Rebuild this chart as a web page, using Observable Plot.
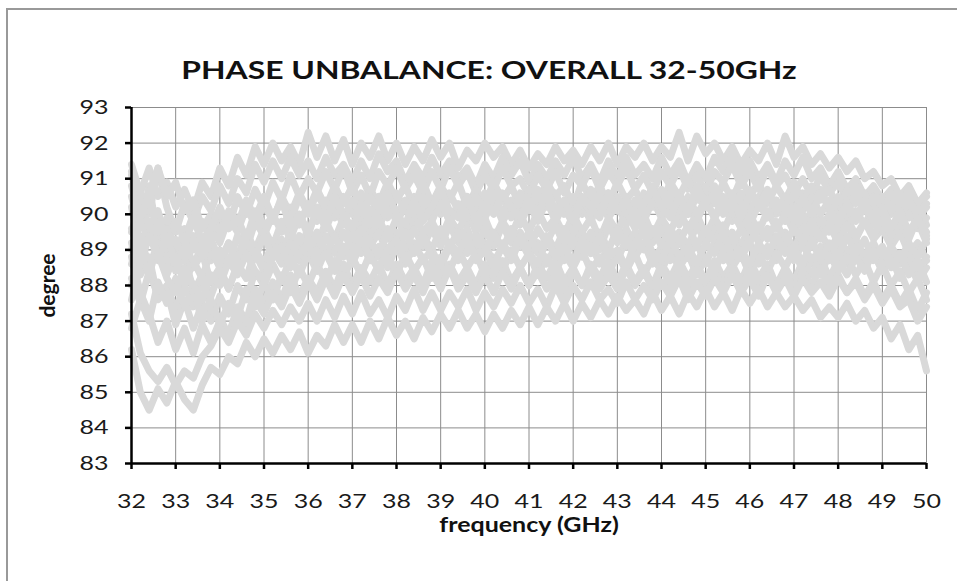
<!DOCTYPE html>
<html>
<head>
<meta charset="utf-8">
<script src="https://cdn.jsdelivr.net/npm/d3@7"></script>
<script src="https://cdn.jsdelivr.net/npm/@observablehq/plot@0.6"></script>
<style>
  html, body { margin: 0; padding: 0; background: #fff; }
  #wrap { position: relative; width: 957px; height: 581px; overflow: hidden; }
  #border { position: absolute; left: 6px; top: 8px; width: 1000px; height: 700px; border-left: 2px solid #999; border-top: 2px solid #999; }
  #chart { position: absolute; left: 0; top: 0; }
</style>
</head>
<body>
<div id="wrap"><div id="border"></div><div id="chart"></div></div>
<script>
const titleText = "PHASE UNBALANCE: OVERALL 32-50GHz";
const xLabel = "frequency (GHz)";
const yLabel = "degree";
const xTicks = [32,33,34,35,36,37,38,39,40,41,42,43,44,45,46,47,48,49,50];
const yTicks = [83,84,85,86,87,88,89,90,91,92,93];

const freq = [32,32.2,32.4,32.6,32.8,33,33.2,33.4,33.6,33.8,34,34.2,34.4,34.6,34.8,35,35.2,35.4,35.6,35.8,
36,36.2,36.4,36.6,36.8,37,37.2,37.4,37.6,37.8,38,38.2,38.4,38.6,38.8,39,39.2,39.4,39.6,39.8,
40,40.2,40.4,40.6,40.8,41,41.2,41.4,41.6,41.8,42,42.2,42.4,42.6,42.8,43,43.2,43.4,43.6,43.8,
44,44.2,44.4,44.6,44.8,45,45.2,45.4,45.6,45.8,46,46.2,46.4,46.6,46.8,47,47.2,47.4,47.6,47.8,
48,48.2,48.4,48.6,48.8,49,49.2,49.4,49.6,49.8,50];

const sA = [91.2,90.6,91.3,90.5,90.9, 90.2,90.7,90.1,90.9,90.5, 91.3,90.8,91.6,91.1,91.9, 91.4,92.0,91.5,91.9,91.4,
92.3,91.6,92.2,91.5,92.1, 91.4,92.0,91.6,92.2,91.5, 92.0,91.4,91.9,91.5,92.1, 91.6,92.0,91.3,91.8,91.5,
92.0,91.6,91.9,91.4,91.8, 91.3,91.7,91.4,91.9,91.5, 91.8,91.4,91.9,91.5,92.0, 91.4,91.9,91.6,92.0,91.5,
91.9,91.6,92.3,91.5,92.2, 91.7,92.0,91.5,91.9,91.4, 91.8,91.5,92.0,91.4,92.2, 91.6,91.9,91.4,91.7,91.3,
91.6,91.2,91.5,91.0,91.2, 90.8,91.0,90.5,90.8,90.3, 90.5];
const sB = [91.4,90.6,90.0,91.3,90.2, 89.5,90.3,89.8,90.5,90.1, 90.8,90.3,91.0,90.6,91.4, 90.9,91.5,91.0,91.6,91.1,
91.5,91.0,91.6,91.1,91.4, 90.9,91.5,91.0,91.7,91.2, 91.5,90.9,91.4,91.0,91.6, 91.1,91.5,91.0,91.3,90.8,
91.4,91.0,91.6,91.1,91.5, 90.9,91.4,91.0,91.5,91.1, 91.6,91.0,91.4,90.9,91.5, 91.0,91.6,91.1,91.4,91.0,
91.6,91.1,91.5,90.9,91.4, 91.0,91.6,91.2,91.7,91.1, 91.5,91.0,91.4,90.9,91.5, 91.1,91.6,91.0,91.3,90.8,
91.2,90.7,91.0,90.5,90.8, 90.4,90.7,90.2,90.5,89.9, 90.2];
const sC = [90.5,89.6,90.8,89.3,89.9, 88.8,89.6,89.0,89.8,89.3, 90.1,89.6,90.5,90.0,90.7, 90.2,90.9,90.4,91.1,90.5,
91.0,90.6,91.2,90.7,91.3, 90.6,91.1,90.5,91.2,90.8, 91.3,90.7,91.1,90.6,91.2, 90.7,91.3,90.8,91.2,90.6,
91.1,90.7,91.3,90.8,91.0, 90.5,91.1,90.7,91.2,90.6, 91.1,90.8,91.3,90.7,91.2, 90.8,91.3,90.7,91.1,90.6,
91.2,90.8,91.3,90.7,91.1, 90.6,91.2,90.9,91.4,90.8, 91.2,90.7,91.3,90.8,91.1, 90.6,91.0,90.5,91.1,90.6,
90.9,90.4,90.8,90.2,90.6, 90.0,90.4,89.8,90.2,89.6, 89.9];
const sD = [89.5,90.3,89.6,90.1,89.2, 89.8,89.3,90.0,89.2,89.7, 89.2,89.9,89.5,90.2,89.7, 90.3,89.8,90.5,90.0,90.6,
90.1,90.7,90.2,90.8,90.3, 90.8,90.2,90.7,90.3,90.9, 90.4,90.8,90.2,90.9,90.3, 90.8,90.4,90.9,90.2,90.7,
90.3,90.9,90.4,90.8,90.2, 90.7,90.3,90.9,90.5,90.8, 90.2,90.9,90.4,90.8,90.3, 90.9,90.4,90.7,90.2,90.8,
90.3,90.9,90.5,91.0,90.4, 90.8,90.3,90.9,90.4,91.0, 90.5,90.9,90.3,90.8,90.4, 90.9,90.3,90.8,90.4,90.7,
90.2,90.7,90.3,90.6,90.1, 90.5,90.0,90.4,89.9,90.3, 89.7];
const sE = [91.1,90.2,89.6,90.0,89.0, 88.6,89.3,88.5,89.2,88.7, 89.0,88.6,89.4,89.0,89.8, 89.4,90.0,89.5,90.2,89.7,
90.3,89.8,90.4,89.9,90.5, 90.0,90.6,90.0,90.5,89.9, 90.6,90.1,90.5,89.9,90.4, 90.0,90.6,90.1,90.5,90.0,
90.6,90.1,90.5,89.9,90.6, 90.1,90.7,90.2,90.6,90.0, 90.5,90.0,90.7,90.2,90.6, 90.1,90.5,89.9,90.6,90.2,
90.7,90.1,90.6,90.0,90.5, 90.2,90.8,90.3,90.6,90.1, 90.7,90.2,90.6,90.0,90.5, 90.1,90.6,90.2,90.7,90.1,
90.5,90.0,90.6,90.1,90.5, 90.0,90.6,90.2,90.7,90.3, 90.6];
const sF = [88.6,89.4,88.5,89.2,88.3, 88.9,88.0,88.7,88.2,89.0, 88.5,89.2,88.8,89.5,89.0, 89.6,89.1,89.8,89.3,90.0,
89.5,90.1,89.6,90.2,89.7, 90.3,89.7,90.1,89.6,90.3, 89.8,90.2,89.7,90.3,89.8, 90.4,89.8,90.2,89.7,90.3,
89.9,90.4,89.8,90.2,89.7, 90.3,89.8,90.4,89.9,90.2, 89.7,90.3,89.8,90.4,89.9, 90.3,89.7,90.2,89.8,90.4,
89.9,90.3,89.7,90.2,89.8, 90.4,89.9,90.3,89.8,90.2, 89.7,90.3,89.9,90.4,89.8, 90.2,89.7,90.1,89.6,90.0,
89.5,89.9,89.4,89.8,89.3, 89.6,89.1,89.5,88.9,89.2, 88.7];
const sG = [90.8,89.9,90.4,89.5,89.6, 88.9,89.4,88.5,88.9,88.1, 88.5,87.9,88.6,88.2,89.0, 88.6,89.2,88.8,89.5,89.0,
89.6,89.1,89.8,89.3,89.9, 89.4,90.0,89.4,89.9,89.3, 89.9,89.4,90.0,89.5,89.8, 89.3,89.9,89.5,90.1,89.5,
89.9,89.3,89.8,89.4,90.0, 89.5,90.1,89.6,89.9,89.4, 90.0,89.5,89.9,89.3,89.9, 89.5,90.1,89.6,90.0,89.4,
89.9,89.5,90.1,89.6,90.0, 89.4,89.9,89.5,90.1,89.6, 90.0,89.5,90.1,89.6,90.0, 89.5,90.0,89.4,89.9,89.5,
90.0,89.6,90.1,89.7,90.2, 89.8,90.3,89.9,90.4,90.0, 90.3];
const sH = [88.2,87.5,88.4,87.7,88.0, 87.3,88.0,87.4,88.2,87.7, 88.4,87.9,88.6,88.2,88.9, 88.4,89.0,88.6,89.2,88.7,
89.3,88.8,89.4,88.9,89.5, 89.0,89.6,89.1,89.5,88.9, 89.5,89.0,89.6,89.1,89.6, 89.1,89.7,89.2,89.6,89.0,
89.6,89.1,89.7,89.2,89.5, 89.0,89.6,89.2,89.7,89.1, 89.6,89.1,89.5,89.0,89.7, 89.2,89.6,89.1,89.7,89.2,
89.6,89.0,89.5,89.1,89.7, 89.2,89.6,89.0,89.5,89.1, 89.7,89.2,89.6,89.1,89.5, 89.0,89.6,89.1,89.5,89.0,
89.4,88.9,89.3,88.8,89.2, 88.7,89.1,88.6,89.0,88.4, 88.8];
const sI = [89.2,88.3,88.8,87.6,87.9, 86.9,87.6,86.8,87.5,87.0, 87.7,87.2,88.0,87.6,88.4, 88.0,88.6,88.1,88.8,88.3,
88.9,88.4,89.0,88.5,89.1, 88.6,89.2,88.7,89.1,88.5, 89.1,88.6,89.2,88.7,89.0, 88.5,89.1,88.7,89.3,88.8,
89.2,88.6,89.1,88.7,89.3, 88.8,89.2,88.6,89.1,88.7, 89.3,88.8,89.2,88.6,89.1, 88.7,89.3,88.8,89.2,88.6,
89.1,88.7,89.3,88.8,89.2, 88.6,89.2,88.7,89.3,88.8, 89.2,88.6,89.1,88.7,89.3, 88.7,89.2,88.6,89.1,88.7,
89.1,88.6,89.0,88.5,88.9, 88.4,88.8,88.2,88.7,88.1, 88.5];
const sJ = [86.8,87.6,87.0,88.1,87.5, 88.2,87.4,87.9,87.0,87.6, 86.9,87.5,87.1,87.9,87.4, 88.1,87.6,88.3,87.8,88.5,
88.0,88.6,88.1,88.7,88.2, 88.8,88.3,88.9,88.4,88.8, 88.3,88.9,88.4,88.8,88.2, 88.8,88.4,89.0,88.5,88.9,
88.3,88.8,88.4,89.0,88.5, 88.9,88.3,88.8,88.4,88.9, 88.5,89.0,88.4,88.8,88.3, 88.9,88.4,88.9,88.3,88.8,
88.4,89.0,88.5,88.9,88.3, 88.8,88.4,89.0,88.5,88.9, 88.3,88.9,88.4,88.9,88.5, 89.0,88.4,88.8,88.3,88.9,
88.4,88.8,88.3,88.7,88.1, 88.6,88.0,88.4,87.8,88.2, 87.6];
const sK = [90.2,89.1,89.8,88.9,89.3, 88.4,88.9,87.8,88.3,87.3, 87.1,86.6,87.4,87.0,87.9, 87.5,88.1,87.6,88.3,87.7,
88.2,87.8,88.4,87.9,88.6, 88.0,88.5,88.1,88.6,88.0, 88.6,88.1,88.5,88.0,88.7, 88.2,88.6,88.1,88.5,88.0,
88.6,88.2,88.7,88.1,88.5, 88.0,88.6,88.2,88.7,88.1, 88.5,88.0,88.6,88.2,88.7, 88.1,88.6,88.1,88.5,88.0,
88.6,88.2,88.7,88.2,88.6, 88.1,88.7,88.2,88.6,88.1, 88.7,88.2,88.6,88.0,88.5, 88.1,88.7,88.3,88.8,88.2,
88.7,88.3,88.8,88.4,89.0, 88.6,89.1,88.7,89.2,88.8, 89.3];
const sL = [88.8,87.8,87.2,86.4,87.0, 86.2,86.8,86.1,86.9,86.4, 87.0,86.6,87.3,86.9,87.6, 87.2,87.8,87.4,88.0,87.5,
88.1,87.6,88.2,87.7,88.3, 87.8,88.3,87.7,88.2,87.8, 88.4,87.9,88.3,87.8,88.4, 87.9,88.5,87.9,88.3,87.8,
88.3,87.8,88.4,87.9,88.5, 88.0,88.4,87.9,88.3,87.8, 88.4,88.0,88.5,87.9,88.3, 87.9,88.5,88.0,88.4,87.9,
88.5,88.0,88.4,87.9,88.5, 88.0,88.4,87.9,88.5,88.0, 88.4,87.9,88.5,88.0,88.4, 87.9,88.4,88.0,88.5,87.9,
88.3,87.8,88.2,87.7,88.1, 87.6,88.0,87.5,87.9,87.3, 87.8];
const sM = [87.2,86.1,85.6,85.3,85.7, 85.2,85.6,85.4,86.0,86.3, 86.8,86.4,87.0,86.6,87.2, 86.8,87.3,86.9,87.4,87.0,
87.5,87.0,87.6,87.1,87.7, 87.2,87.8,87.2,87.6,87.1, 87.7,87.3,87.9,87.3,87.8, 87.3,87.8,87.4,87.9,87.3,
87.8,87.4,87.9,87.5,88.0, 87.5,87.9,87.4,88.0,87.5, 88.0,87.6,88.1,87.6,87.9, 87.5,88.1,87.6,88.0,87.6,
88.1,87.7,88.2,87.6,88.1, 87.7,88.2,87.8,88.3,87.8, 88.2,87.7,88.3,87.8,88.2, 87.7,88.2,87.8,88.1,87.7,
88.2,87.8,88.1,87.6,88.0, 87.5,87.9,87.4,87.6,87.0, 87.4];
const sN = [86.2,85.0,84.5,85.1,84.7, 85.3,84.8,84.5,85.2,85.7, 85.5,86.0,85.8,86.4,86.0, 86.5,86.1,86.6,86.2,86.7,
86.1,86.6,86.3,86.9,86.4, 86.9,86.4,87.0,86.5,87.1, 86.6,87.0,86.5,87.1,86.7, 87.2,86.8,87.3,86.8,87.2,
86.7,87.2,86.8,87.3,86.9, 87.4,86.9,87.4,87.0,87.5, 87.0,87.5,87.1,87.6,87.2, 87.7,87.3,87.6,87.2,87.8,
87.3,87.7,87.2,87.8,87.4, 87.9,87.4,87.8,87.3,87.9, 87.5,87.9,87.4,87.8,87.4, 87.7,87.3,87.6,87.1,87.4,
87.1,87.5,87.0,87.3,86.8, 87.1,86.5,86.9,86.2,86.6, 85.6];
const sO = [89.0,89.9,90.6,91.3,90.5, 90.9,90.1,90.4,89.6,90.0, 89.5,90.1,89.7,90.4,89.9, 90.5,89.9,90.4,89.8,90.5,
90.0,90.6,90.1,90.5,89.9, 90.4,89.9,90.5,90.1,90.6, 90.0,90.4,89.9,90.5,90.0, 90.4,89.8,90.3,89.9,90.5,
90.1,90.6,90.0,90.4,89.9, 90.5,90.0,90.4,89.8,90.3, 89.9,90.5,90.0,90.6,90.1, 90.5,90.0,90.4,89.9,90.5,
90.0,90.6,90.1,90.5,90.0, 90.4,89.9,90.5,90.0,90.6, 90.1,90.5,89.9,90.4,90.0, 90.6,90.1,90.5,90.0,90.4,
89.9,90.3,89.8,90.2,89.7, 90.1,89.6,90.0,89.4,89.8, 89.2];
const sP = [88.0,88.9,88.3,89.2,88.6, 89.3,88.7,89.4,88.8,89.3, 88.7,89.2,88.6,89.3,88.8, 89.4,88.8,89.3,88.7,89.4,
88.9,89.5,88.9,89.4,88.8, 89.5,88.9,89.3,88.8,89.6, 89.0,89.5,88.9,89.4,89.0, 89.6,89.1,89.5,88.9,89.4,
88.9,89.5,89.0,89.6,89.1, 89.5,88.9,89.4,89.0,89.6, 89.1,89.5,88.9,89.5,89.0, 89.6,89.1,89.5,89.0,89.6,
89.1,89.6,89.2,89.7,89.1, 89.6,89.2,89.7,89.1,89.6, 89.2,89.7,89.3,89.8,89.2, 89.6,89.2,89.8,89.3,89.7,
89.2,89.7,89.3,89.8,89.4, 89.9,89.4,89.8,89.3,89.9, 89.5];
const sQ = [89.6,88.9,89.5,88.7,89.4, 88.6,89.1,89.9,89.2,89.6, 90.2,89.6,89.9,89.3,90.1, 89.7,89.9,90.4,89.6,90.0,
89.4,90.2,89.8,90.5,90.0, 89.6,90.3,89.7,90.1,90.6, 90.0,89.7,90.4,89.8,90.2, 90.7,90.1,89.9,90.5,89.8,
90.3,90.0,90.6,90.2,89.9, 90.4,89.9,90.7,90.1,90.4, 89.8,90.5,90.2,89.9,90.6, 90.1,90.4,89.8,90.3,90.7,
90.2,89.9,90.5,90.0,90.8, 90.3,90.6,90.0,90.4,89.9, 90.6,90.2,90.7,90.1,90.3, 89.8,90.5,90.0,90.6,90.2,
89.7,90.3,89.9,90.4,89.8, 90.2,89.6,90.1,89.5,89.9, 89.4];
const sR = [87.6,88.6,89.4,88.9,88.2, 87.8,88.5,88.0,87.6,88.3, 88.0,88.7,88.3,88.9,88.4, 88.2,88.8,89.1,88.5,88.9,
89.2,88.6,88.9,88.4,89.1, 88.7,89.3,88.8,88.5,89.0, 89.3,88.7,89.0,89.4,88.8, 88.6,89.2,88.9,89.4,88.7,
89.0,88.5,89.2,88.8,89.4, 88.9,88.6,89.3,88.8,89.1, 88.6,89.3,88.9,89.4,88.8, 89.0,88.5,89.2,89.5,88.9,
88.7,89.3,88.8,89.1,88.6, 89.2,88.9,89.5,88.8,89.0, 88.6,89.2,88.8,89.4,88.9, 89.1,88.6,89.3,88.7,89.2,
88.8,89.4,88.9,89.3,88.7, 89.1,88.5,88.9,88.3,88.7, 88.1];

const allSeries = [sA, sB, sC, sD, sE, sF, sG, sH, sI, sJ, sK, sL, sM, sN, sO, sP, sQ, sR];
const rows = allSeries.flatMap((vals, k) => vals.map((v, i) => ({f: freq[i], v, s: k})));

const font = "Lato, 'Open Sans', sans-serif";
const chart = Plot.plot({
  width: 957,
  height: 581,
  marginLeft: 131,
  marginRight: 31,
  marginTop: 107,
  marginBottom: 118,
  style: {fontFamily: font, fontSize: "20px", color: "#111", background: "transparent", overflow: "visible"},
  x: {domain: [32, 50]},
  y: {domain: [83, 93]},
  marks: [
    Plot.gridX(xTicks, {stroke: "#8c8c8c", strokeOpacity: 1, strokeWidth: 1}),
    Plot.gridY(yTicks, {stroke: "#8c8c8c", strokeOpacity: 1, strokeWidth: 1}),
    Plot.line(rows, {x: "f", y: "v", z: "s", stroke: "#d9d9d9", strokeWidth: 7, strokeLinejoin: "round", strokeLinecap: "round"}),
    Plot.ruleX([32], {stroke: "#000", strokeWidth: 2.5}),
    Plot.ruleY([83], {stroke: "#000", strokeWidth: 2.5}),
    Plot.axisX(xTicks, {tickSize: 6, strokeWidth: 2.5, stroke: "#000", tickPadding: 24, label: null, fontSize: 20, fill: "#1a1a1a"}),
    Plot.axisY(yTicks, {tickSize: 6, strokeWidth: 2.5, stroke: "#000", tickPadding: 17, label: null, fontSize: 20, fill: "#1a1a1a"}),
    Plot.text([xLabel], {frameAnchor: "bottom", dy: 68, fontWeight: "bold", fontSize: 20, fill: "#111"}),
    Plot.text([yLabel], {frameAnchor: "left", textAnchor: "middle", dx: -83, rotate: -90, fontWeight: "bold", fontSize: 21, fill: "#111"}),
    Plot.text([titleText], {frameAnchor: "top", dx: -40, dy: -47, fontWeight: "bold", fontSize: 25.5, fill: "#111"})
  ]
});
document.getElementById("chart").appendChild(chart);

// The reference typography is horizontally wide; stretch the horizontal texts only.
chart.querySelectorAll("text").forEach(t => {
  const tr = t.getAttribute("transform") || "";
  if (tr.includes("rotate")) return;
  const len = t.getComputedTextLength();
  if (len > 0) {
    t.setAttribute("textLength", (len * 1.25).toFixed(1));
    t.setAttribute("lengthAdjust", "spacingAndGlyphs");
  }
});
</script>
</body>
</html>
